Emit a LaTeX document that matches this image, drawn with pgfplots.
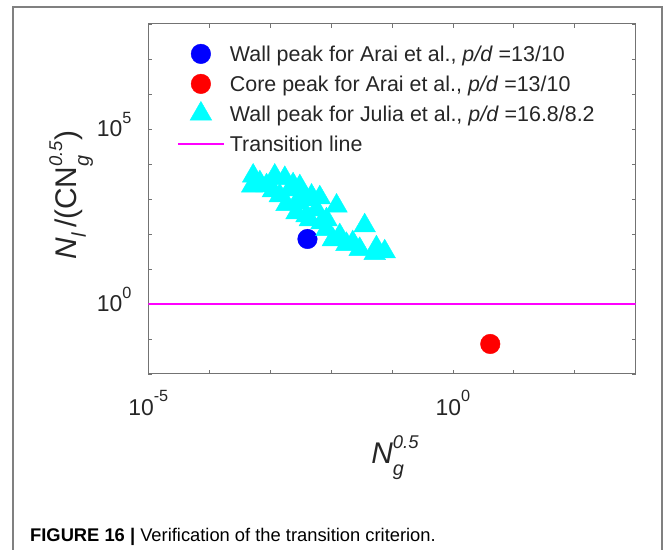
\documentclass[border=0pt]{standalone}
\usepackage{pgfplots}
\pgfplotsset{compat=1.18}
\usepackage{pgfplotstable}
\usepackage{fontspec}
\setmainfont{Liberation Sans}
\definecolor{axgray}{gray}{0.45}
\definecolor{mblue}{rgb}{0,0,1}
\definecolor{mred}{rgb}{1,0,0}
\definecolor{mcyan}{rgb}{0,1,1}
\definecolor{mmag}{rgb}{1,0,1}
\newcommand{\tl}[1]{10\raisebox{0.58em}{\fontsize{16.3}{16.3}\selectfont #1}}
\pgfplotsset{
  mlegend/.style={legend image code/.code={\path (0bp,0bp) (46bp,0bp); \draw[mark repeat=2,mark phase=2,##1] plot coordinates {(0bp,0bp) (23bp,0bp) (46bp,0bp)};}},
  llegend/.style={legend image code/.code={\draw[##1] (0bp,0bp) -- (46bp,0bp);}},
}

\pgfplotstableread{
x y
5.26e-4 4550
5.07e-4 2360
1.19e-3 4550
1.74e-3 3890
2.38e-3 2570
3.07e-3 2255
4.78e-3 1220
6.53e-3 1090
1.23e-2 632
1.44e-3 1245
1.86e-3 704
2.71e-3 407
3.95e-3 334
6.97e-3 211
8.41e-3 136
1.39e-2 90
2.27e-2 56.7
3.56e-2 173
2.95e-2 36.5
5.55e-2 40.7
7.59e-2 31.2
5.20e-2 28
1.79e-2 50.7
1.07e-2 68.9
8.73e-4 2406
1.11e-3 1731
6.78e-4 2932
2.10e-3 1850
3.44e-3 958
5.77e-3 496
4.48e-3 257
8.41e-3 257
2.71e-3 785
}\julia

\begin{document}
\begin{tikzpicture}
\draw[black!50, line width=1.5bp] (13bp,0bp) -- (13bp,543bp) -- (662bp,543bp) -- (662bp,0bp);
\node[anchor=base west, inner sep=0pt, font=\fontsize{18.4}{21}\selectfont] at (30bp,8.3bp)
  {\textbf{FIGURE 16 |} Verification of the transition criterion.};
\begin{axis}[
  at={(148.3bp,176bp)}, anchor=south west,
  scale only axis, width=487.4bp, height=350bp,
  xmode=log, ymode=log,
  xmin=1e-5, xmax=1e3, ymin=1e-2, ymax=1e8,
  xtick={1e-5,1e-4,1e-3,1e-2,1e-1,1,1e1,1e2,1e3},
  xticklabels={\tl{-5},{},{},{},{},\tl{0},{},{},{}},
  ytick={1e-2,1e-1,1,1e1,1e2,1e3,1e4,1e5,1e6,1e7,1e8},
  yticklabels={{},{},\tl{0},{},{},{},{},\tl{5},{},{},{}},
  minor tick style={draw=none},
  major tick length=4bp,
  tick align=inside,
  axis line style={axgray, line width=1bp},
  major tick style={axgray, line width=0.8bp},
  xticklabel style={anchor=base, inner sep=0pt, yshift=-41bp, font=\fontsize{23}{23}\selectfont, text=black!85},
  yticklabel style={anchor=base east, inner sep=0pt, xshift=-16.6bp, yshift=-7.4bp, font=\fontsize{23}{23}\selectfont, text=black!85},
  xlabel={\textit{N}\rlap{\raisebox{-0.4em}{\fontsize{20}{20}\selectfont\textit{g}}}\raisebox{0.5em}{\fontsize{18.5}{18.5}\selectfont\textit{0.5}}},
  ylabel={\textit{N}\raisebox{-0.3em}{\fontsize{20}{20}\selectfont\textit{l}}\,/(CN\rlap{\raisebox{-0.4em}{\fontsize{20}{20}\selectfont\textit{g}}}\raisebox{0.5em}{\fontsize{18.5}{18.5}\selectfont\textit{0.5}})},
  xlabel style={at={(axis description cs:0.506,-0.255)}, anchor=base, inner sep=0pt, font=\fontsize{30}{30}\selectfont, text=black!85},
  ylabel style={at={(axis description cs:-0.1463,0.511)}, anchor=base, inner sep=0pt, font=\fontsize{30}{30}\selectfont, text=black!85},
  legend style={at={(axis description cs:0.0583,0.9523)}, anchor=north west, draw=none, fill=none,
    inner sep=0pt, row sep=4bp, column sep=5bp,
    font=\fontsize{21.5}{21.5}\selectfont, text=black!85,
    nodes={inner sep=0pt, text height=21bp, text depth=5bp}},
  legend cell align=left,
]
\addplot[only marks, mark=*, mark size=9.8bp, color=mblue, mark options={draw=mblue, fill=mblue}, mlegend]
  coordinates {(4.1e-3,72)};
\addlegendentry{Wall peak for Arai et al., \textit{p/d} =13/10}
\addplot[only marks, mark=*, mark size=9.8bp, color=mred, mark options={draw=mred, fill=mred}, mlegend]
  coordinates {(4.1,0.072)};
\addlegendentry{Core peak for Arai et al., \textit{p/d} =13/10}
\addplot[only marks, mark=triangle*, mark size=12.5bp, color=mcyan, mark options={draw=mcyan, fill=mcyan}, mlegend]
  table[x=x, y=y] {\julia};
\addlegendentry{Wall peak for Julia et al., \textit{p/d} =16.8/8.2}
\addplot[mmag, line width=2bp, llegend]
  coordinates {(1e-5,1) (1e3,1)};
\addlegendentry{Transition line}
\end{axis}
\pgfresetboundingbox
\path[use as bounding box] (0,0) rectangle (665bp,550bp);
\end{tikzpicture}
\end{document}
